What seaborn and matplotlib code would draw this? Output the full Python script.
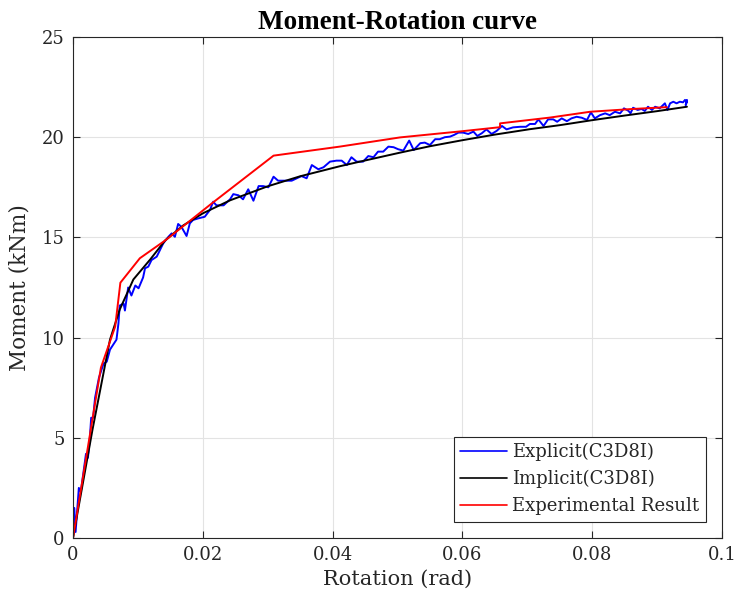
import numpy as np
import pandas as pd
import matplotlib
matplotlib.use("Agg")
import matplotlib.pyplot as plt
import seaborn as sns

# ---------------- data ----------------
explicit_rot = [0, 0.0002, 0.0004, 0.0009, 0.0012, 0.0015, 0.0020, 0.0023, 0.0026, 0.0028,
                0.0031, 0.0034, 0.0040, 0.0047, 0.0052, 0.0057, 0.0067, 0.0070, 0.0072, 0.0078,
                0.0080, 0.0085, 0.0090, 0.0096, 0.0101, 0.0108, 0.0111, 0.0116, 0.0121, 0.0129,
                0.0134, 0.0139, 0.0147, 0.0152, 0.0157, 0.0162, 0.0167, 0.0175, 0.0180, 0.0185,
                0.0193, 0.0203, 0.0211, 0.0216, 0.0221, 0.0232, 0.0242, 0.0247, 0.0255, 0.0262,
                0.0270, 0.0278, 0.0286, 0.0293, 0.0301, 0.0309, 0.0316, 0.0327, 0.0337, 0.0345,
                0.0352, 0.0360, 0.0368, 0.0378, 0.0386, 0.0396, 0.0406, 0.0414, 0.0422, 0.0429,
                0.0437, 0.0447, 0.0455, 0.0463, 0.0470, 0.0478, 0.0486, 0.0494, 0.0501, 0.0509,
                0.0518, 0.0525, 0.0535, 0.0542, 0.0550, 0.0558, 0.0565, 0.0573, 0.0581, 0.0587,
                0.0594, 0.0601, 0.0609, 0.0617, 0.0623, 0.0630, 0.0637, 0.0645, 0.0653, 0.0661,
                0.0668, 0.0678, 0.0689, 0.0698, 0.0704, 0.0712, 0.0717, 0.0725, 0.0732, 0.0740,
                0.0746, 0.0753, 0.0761, 0.0768, 0.0776, 0.0784, 0.0792, 0.0798, 0.0804, 0.0812,
                0.0820, 0.0827, 0.0835, 0.0843, 0.0849, 0.0856, 0.0859, 0.0863, 0.0870, 0.0876,
                0.0881, 0.0886, 0.0892, 0.0897, 0.0904, 0.0912, 0.0916, 0.0920, 0.0925, 0.0930,
                0.0935, 0.0940, 0.0943, 0.0946, 0.0944, 0.0946]
explicit_mom = [0, 1.5, 0.3, 2.5, 2.3, 3.0, 4.2, 4.0, 5.0, 6.0,
                6.0, 7.0, 8.0, 8.7, 8.8, 9.4, 9.9, 10.7, 11.6, 11.7,
                11.35, 12.5, 12.1, 12.6, 12.46, 13.0, 13.46, 13.54, 13.87, 14.04,
                14.37, 14.7, 15.03, 15.2, 15.03, 15.67, 15.53, 15.07, 15.7, 15.87,
                15.95, 16.03, 16.37, 16.78, 16.6, 16.6, 16.9, 17.16, 17.1, 16.9,
                17.4, 16.83, 17.56, 17.56, 17.5, 18.03, 17.83, 17.83, 17.83, 17.95,
                18.06, 17.95, 18.61, 18.4, 18.5, 18.78, 18.83, 18.83, 18.61, 19.0,
                18.78, 18.78, 19.06, 19.0, 19.28, 19.28, 19.53, 19.5, 19.4, 19.33,
                19.83, 19.36, 19.7, 19.73, 19.61, 19.9, 19.9, 20.0, 20.03, 20.11,
                20.23, 20.23, 20.16, 20.28, 20.06, 20.2, 20.39, 20.16, 20.32, 20.56,
                20.39, 20.49, 20.52, 20.52, 20.66, 20.66, 20.89, 20.56, 20.89, 20.89,
                20.77, 20.94, 20.8, 20.94, 21.02, 20.97, 20.86, 21.24, 20.94, 21.1,
                21.19, 21.1, 21.27, 21.19, 21.44, 21.31, 21.19, 21.47, 21.36, 21.41,
                21.31, 21.52, 21.36, 21.52, 21.44, 21.69, 21.36, 21.69, 21.77, 21.69,
                21.77, 21.74, 21.86, 21.77, 21.6, 21.86]

implicit_rot = [0, 0.001, 0.002, 0.003, 0.0042, 0.0057, 0.0072, 0.0093, 0.0119, 0.0142,
                0.017, 0.020, 0.0242, 0.030, 0.035, 0.0411, 0.0442, 0.0504, 0.055, 0.060,
                0.065, 0.0704, 0.075, 0.080, 0.085, 0.090, 0.0946]
implicit_mom = [0, 1.8, 3.6, 5.4, 7.4, 9.9, 11.4, 12.9, 13.9, 14.85,
                15.6, 16.2, 16.85, 17.55, 18.05, 18.55, 18.78, 19.23, 19.55, 19.85,
                20.13, 20.4, 20.6, 20.85, 21.08, 21.3, 21.52]

experimental_rot = [0, 0.0043, 0.0065, 0.0073, 0.0103, 0.0143, 0.0214, 0.0309, 0.0411,
                    0.0504, 0.0600, 0.0658, 0.0658, 0.0735, 0.0797, 0.0858, 0.0915]
experimental_mom = [0, 8.5, 10.55, 12.74, 13.96, 14.87, 16.7, 19.08, 19.53,
                    19.99, 20.3, 20.5, 20.69, 20.98, 21.27, 21.4, 21.5]

series_names = ["Explicit(C3D8I)", "Implicit(C3D8I)", "Experimental Result"]
x_ticks = [0, 0.02, 0.04, 0.06, 0.08, 0.1]
x_tick_labels = ["0", "0.02", "0.04", "0.06", "0.08", "0.1"]
y_ticks = [0, 5, 10, 15, 20, 25]

# ---------------- build table ----------------
frames = []
for name, xs, ys in zip(series_names,
                        [explicit_rot, implicit_rot, experimental_rot],
                        [explicit_mom, implicit_mom, experimental_mom]):
    frames.append(pd.DataFrame({"rot": xs, "mom": ys, "series": name,
                                "order": np.arange(len(xs))}))
df = pd.concat(frames, ignore_index=True)

sns.set_theme(style="white")
plt.rcParams["font.family"] = ["DejaVu Serif"]

fig = plt.figure(figsize=(7.37, 6.06), dpi=100)
ax = fig.add_axes([73 / 737, 1 - 538 / 606, (722 - 73) / 737, (538 - 37) / 606])

palette = {"Explicit(C3D8I)": "#0000ff", "Implicit(C3D8I)": "#000000",
           "Experimental Result": "#ff0000"}
sns.lineplot(data=df, x="rot", y="mom", hue="series", hue_order=series_names,
             palette=palette, sort=False, estimator=None, units="series",
             linewidth=1.4, ax=ax, legend=True)

ax.set_xlim(0, 0.1)
ax.set_ylim(0, 25)
ax.set_xticks(x_ticks)
ax.set_xticklabels(x_tick_labels)
ax.set_yticks(y_ticks)
ax.grid(True, color="#e3e3e3", linewidth=0.8)
ax.set_axisbelow(True)
ax.tick_params(direction="in", length=5, width=0.8, top=True, right=True,
               bottom=True, left=True, labelsize=13, colors="#262626",
               labelcolor="#262626", pad=6)
for s in ax.spines.values():
    s.set_color("#262626")
    s.set_linewidth(0.8)
    s.set_visible(True)

ax.set_xlabel("Rotation (rad)", fontsize=15, color="#262626", labelpad=4)
ax.set_ylabel("Moment (kNm)", fontsize=15.5, color="#262626", labelpad=8)
ax.set_title("Moment-Rotation curve", fontsize=19.5, fontweight="bold", color="black",
             pad=6, family=["Liberation Serif"])

leg = ax.legend(loc="lower right", fontsize=13, frameon=True, fancybox=False,
                edgecolor="#262626", framealpha=1, borderpad=0.35, labelspacing=0.5,
                handlelength=2.6, handletextpad=0.3, borderaxespad=0.9)
leg.get_frame().set_linewidth(0.8)
for line in leg.get_lines():
    line.set_linewidth(1.2)

fig.savefig("out.png", dpi=100, facecolor="white")
